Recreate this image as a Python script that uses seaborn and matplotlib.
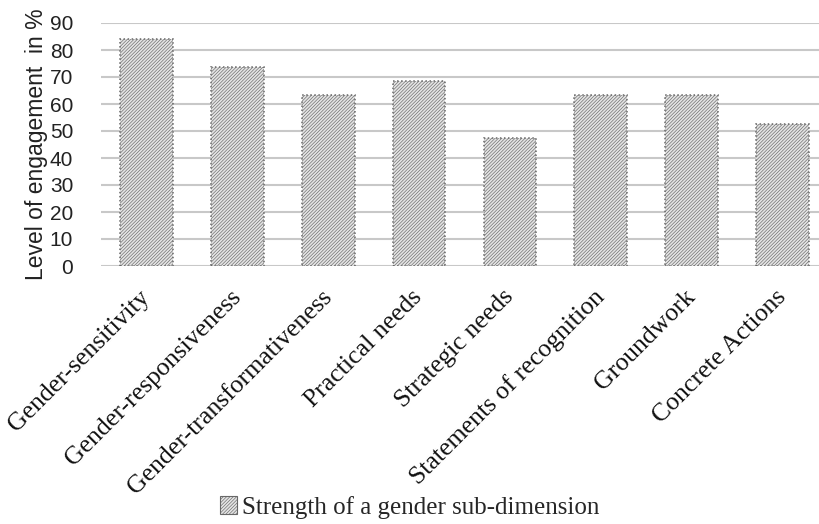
import matplotlib
matplotlib.use("Agg")
import matplotlib.pyplot as plt
import seaborn as sns
from matplotlib.patches import Patch

# Level of engagement per gender sub-dimension (%)
categories = [
    "Gender-sensitivity",
    "Gender-responsiveness",
    "Gender-transformativeness",
    "Practical needs",
    "Strategic needs",
    "Statements of recognition",
    "Groundwork",
    "Concrete Actions",
]
values = [84.2, 73.7, 63.2, 68.4, 47.4, 63.2, 63.2, 52.6]
yticks = [0, 10, 20, 30, 40, 50, 60, 70, 80, 90]
series_label = "Strength of a gender sub-dimension"

sns.set_style("white")
plt.rcParams["hatch.linewidth"] = 0.45

fig = plt.figure(figsize=(8.19, 5.24), dpi=100)
ax = fig.add_axes([101 / 819, 1 - 266 / 524, 727 / 819, 243 / 524])

bar_face = "#e4e4e4"
bar_edge = "#686868"
sns.barplot(x=categories, y=values, ax=ax, color=bar_face, width=0.58,
            edgecolor=bar_edge, linewidth=1.1, linestyle=":",
            hatch="//////////", zorder=3)

ax.set_ylim(0, 90)
ax.set_xlim(-0.5, 7.5)
ax.set_yticks(yticks)
ax.grid(axis="y", color="#c8c8c8", linewidth=1.5, zorder=0)
ax.set_axisbelow(True)
sns.despine(ax=ax, left=True, bottom=True)

ax.tick_params(axis="y", length=0, pad=20, labelsize=15)
ax.tick_params(axis="x", length=0, pad=20)
for t in ax.get_yticklabels():
    t.set_fontfamily("Liberation Sans")
    t.set_color("#222222")
ax.set_xticks(range(len(categories)))
ax.set_xticklabels(categories, rotation=45, ha="right", va="center",
                   rotation_mode="anchor", fontsize=18.5,
                   family="Liberation Serif", color="#111111")
ax.set_xlabel("")
ax.set_ylabel("Level of engagement  in %", fontsize=16.5,
              family="Liberation Sans", color="#222222", labelpad=1)

handle = Patch(facecolor=bar_face, edgecolor=bar_edge, hatch="//////////",
               linewidth=0.8)
leg = fig.legend([handle], [series_label], loc="center",
                 bbox_to_anchor=(0.5, 0.032), frameon=False,
                 prop={"family": "Liberation Serif", "size": 18},
                 handlelength=0.7, handleheight=0.7, handletextpad=0.2)

fig.savefig("out.png", dpi=100)
